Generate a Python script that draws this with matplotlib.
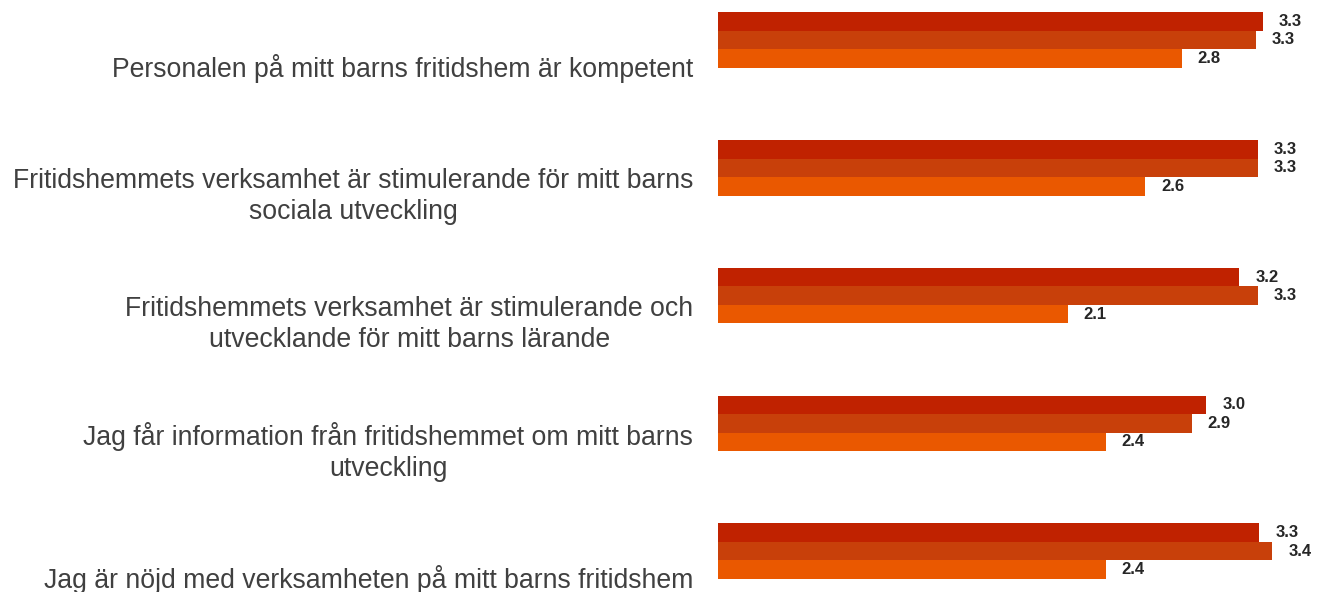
import matplotlib.pyplot as plt
import numpy as np

plt.rcParams['font.family'] = ['Liberation Sans', 'DejaVu Sans']

# Påståenden (frågor), uppifrån och ned
fragor = [
    "Personalen på mitt barns fritidshem är kompetent",
    "Fritidshemmets verksamhet är stimulerande för mitt barns\nsociala utveckling",
    "Fritidshemmets verksamhet är stimulerande och\nutvecklande för mitt barns lärande",
    "Jag får information från fritidshemmet om mitt barns\nutveckling",
    "Jag är nöjd med verksamheten på mitt barns fritidshem",
]

# Medelvärden per serie (läst från bilden)
serie1 = [3.30, 3.27, 3.16, 2.96, 3.28]
serie2 = [3.26, 3.27, 3.27, 2.87, 3.36]
serie3 = [2.81, 2.59, 2.12, 2.35, 2.35]

farger = ['#C02200', '#C8400A', '#EA5800']

fig = plt.figure(figsize=(13.18, 5.92), dpi=100)
ax = fig.add_axes([0.5448, 0.0, 0.4507, 1.0])

y = np.arange(len(fragor))
h = 0.145
for k, (vals, col) in enumerate(zip([serie1, serie2, serie3], farger)):
    pos = y + (k - 1) * h
    ax.barh(pos, vals, height=h, color=col, edgecolor='none')
    for p, v in zip(pos, vals):
        ax.text(v + 0.097, p, f"{v:.1f}", va='center', ha='left',
                fontsize=12, fontweight='bold', color='#262626')

ax.set_xlim(0, 3.6)
ax.set_ylim(4.32, -0.313)
ax.set_yticks([])
ax.set_xticks([])
for s in ax.spines.values():
    s.set_visible(False)

for i, txt in enumerate(fragor):
    ax.text(-0.15, i + 0.225, txt, ha='right', va='center', multialignment='center',
            fontsize=19.2, color='#404040', linespacing=1.23)

fig.savefig('out.png', dpi=100)
